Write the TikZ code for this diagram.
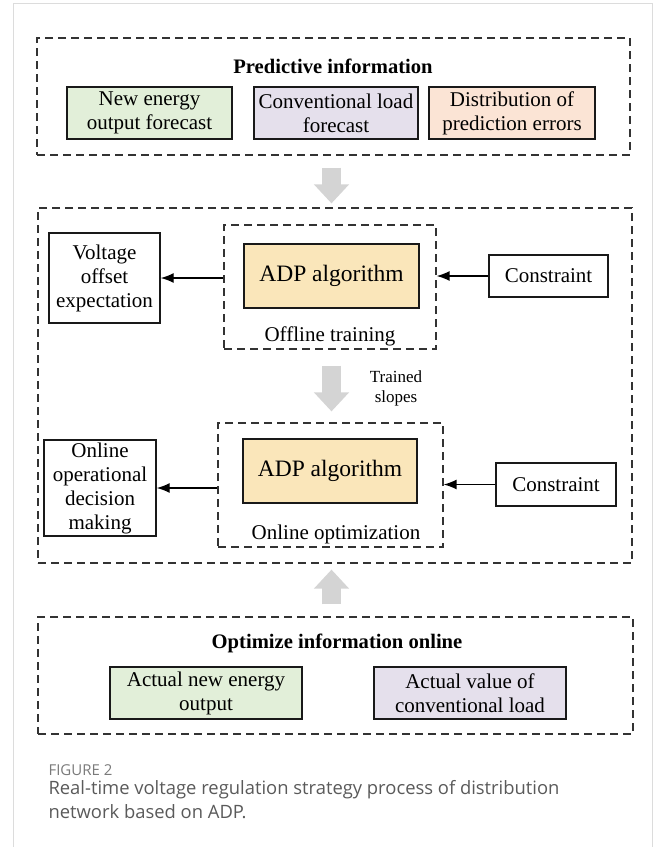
\documentclass[tikz,border=0pt]{standalone}
\usepackage{fontspec}
\setmainfont{Liberation Serif}
\newfontfamily\capfont{Open Sans}
\usetikzlibrary{positioning,arrows.meta}

\definecolor{greenfill}{HTML}{E2EFD9}
\definecolor{purplefill}{HTML}{E5E0EC}
\definecolor{orangefill}{HTML}{FBE4D5}
\definecolor{adpfill}{HTML}{FAE6BA}
\definecolor{arrowgray}{HTML}{D4D4D4}
\definecolor{framegray}{HTML}{DCDCDC}
\definecolor{captext}{HTML}{5A5A5A}
\definecolor{figtext}{HTML}{7A7A7A}

\tikzset{
	infobox/.style={draw=black!90, line width=1.4pt, inner sep=0pt, align=center, font=\fontsize{21}{24}\selectfont},
	groupbox/.style={draw=black!80, line width=1.2pt, dash pattern=on 8pt off 5pt, inner sep=0pt},
	adpbox/.style={infobox, fill=adpfill, font=\fontsize{23.5}{27}\selectfont},
	flow/.style={line width=1.4pt, -{Latex[length=13pt,width=10pt]}},
	fatarrow/.style={draw=arrowgray, line width=19pt, -{Triangle[length=19pt,width=34pt]}},
	title/.style={anchor=base, font=\fontsize{20.6}{24}\selectfont\bfseries},
	plain/.style={anchor=base, font=\fontsize{21}{24}\selectfont}
}

\begin{document}
\begin{tikzpicture}[x=1pt,y=-1pt]
	\useasboundingbox (0,0) rectangle (658,847);
	
	% card frame
	\draw [framegray, line width=1pt] (13.5,847) -- (13.5,3.5) -- (652,3.5) -- (652,847);
	
	% TOP ROW
	
	\node [groupbox, minimum width=593pt, minimum height=117pt] at (333.5,96.5) (pred) {};
	\node [title] at (333,73) (predt) {Predictive information};
	
	\node [infobox, fill=greenfill, minimum width=165pt, minimum height=52pt] at (149.5,113) (newe) {New energy\\output forecast};
	\node [infobox, fill=purplefill, minimum width=164pt, minimum height=52pt] at (336,113) (convl) {Conventional load\\forecast};
	\node [infobox, fill=orangefill, minimum width=166pt, minimum height=52pt] at (512,113) (disterr) {Distribution of\\prediction errors};
	
	% MIDDLE
	
	\node [groupbox, minimum width=594pt, minimum height=355pt] at (335,385.5) (mid) {};
	
	% Offline training
	\node [groupbox, minimum width=212pt, minimum height=124pt] at (330,287) (offl) {};
	\node [adpbox, minimum width=175pt, minimum height=64pt] at (331.5,276) (adpa) {ADP algorithm};
	\node [plain] at (330,341) (offlt) {Offline training};
	
	\node [infobox, minimum width=111pt, minimum height=90pt] at (104.5,278) (volt) {Voltage\\offset\\expectation};
	\node [infobox, minimum width=119pt, minimum height=42pt] at (548.5,276) (cona) {Constraint};
	
	\draw [flow] (offl.west |- volt.east) -- (volt.east);
	\draw [flow] (cona.west) -- (offl.east |- cona.west);
	
	% Online optimization
	\node [groupbox, minimum width=225pt, minimum height=124pt] at (330.5,485) (onl) {};
	\node [adpbox, minimum width=174pt, minimum height=64pt] at (330,471) (adpb) {ADP algorithm};
	\node [plain] at (336,539) (onlt) {Online optimization};
	
	\node [infobox, minimum width=112pt, minimum height=96pt] at (100,488) (dec) {Online\\operational\\decision\\making};
	\node [infobox, minimum width=120pt, minimum height=43pt] at (556,484.5) (conb) {Constraint};
	
	\draw [flow] (onl.west |- dec.east) -- (dec.east);
	\draw [flow] (conb.west) -- (onl.east |- conb.west);
	
	\node [align=center, font=\fontsize{17}{20}\selectfont] at (396,388) (slopes) {Trained\\slopes};
	
	% BOTTOM ROW
	
	\node [groupbox, minimum width=595pt, minimum height=117pt] at (335.5,675.5) (opt) {};
	\node [title] at (337,648) (optt) {Optimize information online};
	
	\node [infobox, fill=greenfill, minimum width=192pt, minimum height=52pt] at (206,693) (actn) {Actual new energy\\output};
	\node [infobox, fill=purplefill, minimum width=192pt, minimum height=52pt] at (470,693) (actv) {Actual value of\\conventional load};
	
	% Grey arrows
	\draw [fatarrow, shorten <=12pt, shorten >=4pt] (pred.south -| adpa) -- (mid.north -| adpa);
	\draw [fatarrow, shorten <=16pt, shorten >=11pt] (offl.south -| adpa) -- (onl.north -| adpa);
	\draw [fatarrow, shorten <=12pt, shorten >=6pt] (opt.north -| adpa) -- (mid.south -| adpa);
	
	% Caption
	\node [anchor=base west, text=figtext, font=\capfont\fontsize{15}{18}\selectfont] at (45,775) (fig) {FIGURE 2};
	\node [anchor=base west, text=captext, font=\capfont\fontsize{18.4}{22}\selectfont] at (45,794) (capa) {Real-time voltage regulation strategy process of distribution};
	\node [anchor=base west, text=captext, font=\capfont\fontsize{18.4}{22}\selectfont] at (45,818) (capb) {network based on ADP.};
	
\end{tikzpicture}
\end{document}
